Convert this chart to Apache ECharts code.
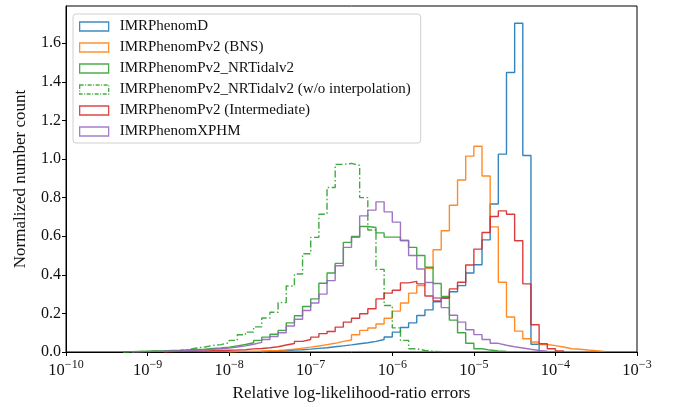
<!DOCTYPE html>
<html>
<head>
<meta charset="utf-8">
<script src="https://cdn.jsdelivr.net/npm/echarts@6/dist/echarts.min.js"></script>
<style>
html,body{margin:0;padding:0;background:#fff;}
#chart{width:681px;height:407px;}
</style>
</head>
<body>
<div id="chart"></div>
<script>
// Histogram bins are 0.1 dex wide; each series lists the exponent of its first bin's left edge
const binWidthDex = 0.1;
const seriesNames = [
  'IMRPhenomD',
  'IMRPhenomPv2 (BNS)',
  'IMRPhenomPv2_NRTidalv2',
  'IMRPhenomPv2_NRTidalv2 (w/o interpolation)',
  'IMRPhenomPv2 (Intermediate)',
  'IMRPhenomXPHM'
];
const colors = ['#1f77b4', '#ff7f0e', '#2ca02c', '#2ca02c', '#d62728', '#9467bd'];

const startD = -7.6;
const valuesD = [0.003,0.004,0.008,0.010,0.012,0.015,0.019,0.022,0.027,0.032,0.037,0.043,0.048,0.055,0.065,0.078,
  0.103,0.127,0.151,0.189,0.218,0.260,0.280,0.312,0.344,0.409,0.452,0.581,0.767,1.025,1.448,1.703,1.018,0.040];

const startBNS = -8.0;
const valuesBNS = [0.002,0.003,0.004,0.005,0.007,0.008,0.010,0.015,0.020,0.025,0.031,0.038,0.045,0.055,0.062,0.089,
  0.112,0.124,0.145,0.175,0.212,0.254,0.305,0.344,0.433,0.530,0.628,0.760,0.891,1.015,1.066,0.912,0.648,0.361,
  0.181,0.108,0.069,0.052,0.039,0.033,0.026,0.017,0.014,0.010,0.007,0.003];

const startNRT = -9.3;
const valuesNRT = [0.002,0.003,0.004,0.005,0.006,0.008,0.009,0.011,0.013,0.015,0.018,0.021,0.025,0.032,0.039,0.048,
  0.060,0.077,0.092,0.112,0.151,0.188,0.236,0.275,0.356,0.409,0.459,0.568,0.599,0.650,0.645,0.617,0.595,0.595,
  0.578,0.542,0.500,0.439,0.355,0.288,0.165,0.100,0.045,0.017,0.010,0.005,0.003];

const startNRTnoInterp = -9.3;
const valuesNRTnoInterp = [0.001,0.002,0.003,0.004,0.005,0.006,0.008,0.012,0.021,0.026,0.034,0.038,0.048,0.060,0.089,
  0.103,0.130,0.176,0.206,0.256,0.342,0.404,0.509,0.594,0.714,0.852,0.972,0.977,0.967,0.800,0.632,0.428,0.241,
  0.125,0.060,0.017,0.008,0.004,0.002];

const startInter = -8.8;
const valuesInter = [0.002,0.003,0.004,0.005,0.006,0.007,0.008,0.009,0.010,0.012,0.016,0.018,0.022,0.027,0.036,0.044,
  0.055,0.065,0.077,0.095,0.106,0.129,0.155,0.175,0.198,0.224,0.275,0.305,0.320,0.358,0.366,0.353,0.290,0.265,
  0.280,0.327,0.361,0.451,0.533,0.619,0.702,0.731,0.714,0.576,0.353,0.141,0.043,0.017,0.005];

const startXPHM = -9.2;
const valuesXPHM = [0.001,0.002,0.003,0.004,0.005,0.006,0.008,0.010,0.012,0.014,0.017,0.020,0.026,0.032,0.040,0.050,
  0.065,0.080,0.100,0.135,0.170,0.215,0.254,0.300,0.370,0.447,0.542,0.594,0.705,0.735,0.778,0.726,0.673,0.578,
  0.500,0.430,0.360,0.280,0.230,0.190,0.155,0.115,0.090,0.065,0.045,0.035,0.027,0.021,0.014,0.008,0.004];

const yTicks = [0.0,0.2,0.4,0.6,0.8,1.0,1.2,1.4,1.6];

const starts = [startD, startBNS, startNRT, startNRTnoInterp, startInter, startXPHM];
const valueSets = [valuesD, valuesBNS, valuesNRT, valuesNRTnoInterp, valuesInter, valuesXPHM];

function stepData(start, vals) {
  const pts = [];
  const edge = i => Math.pow(10, start + i * binWidthDex);
  pts.push([edge(0), 0]);
  for (let i = 0; i < vals.length; i++) pts.push([edge(i), vals[i]]);
  pts.push([edge(vals.length), 0]);
  return pts;
}

const dashDot = [7, 2.5, 1.5, 2.5];
const FONT = 'Liberation Serif';

const series = seriesNames.map((name, k) => ({
  name: name,
  type: 'line',
  step: 'end',
  showSymbol: false,
  symbol: 'none',
  silent: true,
  animation: false,
  z: 2 + k,
  data: stepData(starts[k], valueSets[k]),
  lineStyle: {
    color: colors[k],
    width: 1.4,
    opacity: 0.9,
    type: k === 3 ? dashDot : 'solid'
  },
  itemStyle: { color: colors[k] }
}));

const legendData = seriesNames.map((name, k) => ({
  name: name,
  icon: 'rect',
  itemStyle: {
    color: 'rgba(0,0,0,0)',
    borderColor: colors[k],
    borderWidth: 1.3,
    borderType: k === 3 ? [4, 1.5, 1, 1.5] : 'solid',
    opacity: 0.85
  }
}));

const chart = echarts.init(document.getElementById('chart'), null, { renderer: 'canvas' });
chart.setOption({
  animation: false,
  backgroundColor: '#fff',
  textStyle: { fontFamily: FONT },
  grid: {
    left: 66, right: 44, top: 6, bottom: 54,
    show: true, borderColor: '#000', borderWidth: 1, backgroundColor: 'transparent'
  },
  legend: {
    orient: 'vertical',
    left: 73, top: 14,
    padding: [4, 10, 3, 6],
    itemWidth: 29, itemHeight: 9,
    itemGap: 4,
    backgroundColor: 'rgba(255,255,255,0.8)',
    borderColor: '#d0d0d0', borderWidth: 1, borderRadius: 3,
    textStyle: { fontFamily: FONT, fontSize: 15, color: '#111', padding: [0,0,0,6], lineHeight: 17 },
    data: legendData
  },
  xAxis: {
    type: 'log', logBase: 10,
    min: 1e-10, max: 1e-3,
    splitNumber: 7,
    name: 'Relative log-likelihood-ratio errors',
    nameLocation: 'middle', nameGap: 33,
    nameTextStyle: { fontFamily: FONT, fontSize: 17, color: '#111' },
    axisLine: { show: true, lineStyle: { color: '#000', width: 1 } },
    axisTick: { show: true, length: 4, lineStyle: { color: '#000', width: 1 } },
    minorTick: { show: false },
    splitLine: { show: false },
    axisLabel: {
      margin: 9,
      color: '#111',
      formatter: function (v) {
        const e = Math.round(Math.log10(v));
        return '{b|10}{s|\u2212' + Math.abs(e) + '}';
      },
      rich: {
        b: { fontFamily: FONT, fontSize: 16.5, color: '#111', verticalAlign: 'bottom', lineHeight: 18 },
        s: { fontFamily: FONT, fontSize: 12, color: '#111', verticalAlign: 'bottom', lineHeight: 18, padding: [0, 0, 8, 0] }
      }
    }
  },
  yAxis: {
    type: 'value',
    min: 0, max: 1.7925,
    interval: 0.2,
    name: 'Normalized number count',
    nameLocation: 'middle', nameGap: 37,
    nameTextStyle: { fontFamily: FONT, fontSize: 17, color: '#111' },
    axisLine: { show: true, lineStyle: { color: '#000', width: 1 } },
    axisTick: { show: true, length: 4, lineStyle: { color: '#000', width: 1 } },
    splitLine: { show: false },
    axisLabel: {
      margin: 5,
      fontFamily: FONT, fontSize: 16, color: '#111',
      showMaxLabel: false,
      formatter: function (v) {
        for (const t of yTicks) if (Math.abs(t - v) < 1e-6) return t.toFixed(1);
        return '';
      }
    }
  },
  series: series
});
</script>
</body>
</html>
